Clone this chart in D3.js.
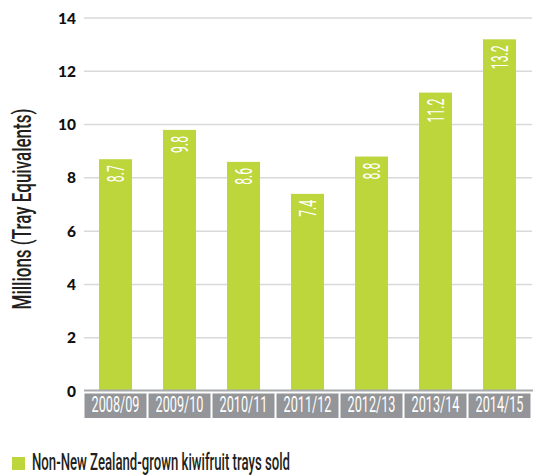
<!DOCTYPE html>
<html><head><meta charset="utf-8">
<script src="https://cdn.jsdelivr.net/npm/d3@7"></script>
<style>body{margin:0;background:#fff}svg{display:block}</style>
</head><body>
<svg id="c" width="534" height="475"></svg>
<script>
const categories = ["2008/09","2009/10","2010/11","2011/12","2012/13","2013/14","2014/15"];
const values = [8.7, 9.8, 8.6, 7.4, 8.8, 11.2, 13.2];
const yTicks = [0, 2, 4, 6, 8, 10, 12, 14];
const seriesName = "Non-New Zealand-grown kiwifruit trays sold";
const yTitle = "Millions (Tray Equivalents)";

const green = "#bdd63c", gray = "#939598", dark = "#231f20";
const cond = "Roboto, 'Liberation Sans', sans-serif";

const svg = d3.select("#c");
const y = d3.scaleLinear().domain([0, 14]).range([391, 18]);
const x = d3.scaleBand().domain(categories).range([83.5, 531.5]).paddingInner(0.484).paddingOuter(0.242);
const step = x.step();

function squeeze(g, target) {
  const t = g.select("text").node();
  return target / t.getComputedTextLength();
}

// gridlines
svg.append("g").selectAll("line").data(yTicks.filter(d => d > 0)).join("line")
  .attr("x1", 84).attr("x2", 532)
  .attr("y1", d => y(d)).attr("y2", d => y(d))
  .attr("stroke", "#d9d9d9").attr("stroke-width", 1.5);

// y tick labels
svg.append("g").selectAll("text").data(yTicks).join("text")
  .attr("x", 76).attr("y", d => y(d)).attr("dy", "0.36em")
  .attr("text-anchor", "end")
  .attr("font-family", "Lato, 'Open Sans', sans-serif").attr("font-weight", 900)
  .attr("font-size", 15.5).attr("fill", "#111")
  .text(d => d);

// bars
svg.append("g").selectAll("rect").data(values).join("rect")
  .attr("x", (d, i) => x(categories[i]))
  .attr("width", x.bandwidth())
  .attr("y", d => y(d))
  .attr("height", d => y(0) - y(d))
  .attr("fill", green);

// axis line
svg.append("line").attr("x1", 84).attr("x2", 533).attr("y1", 390.5).attr("y2", 390.5)
  .attr("stroke", "#a7a9ac").attr("stroke-width", 2);

// value labels
const vl = svg.append("g").selectAll("g").data(values).join("g");
vl.append("text")
  .attr("text-anchor", "end").attr("dy", "0.36em")
  .attr("font-family", cond).attr("font-size", 23).attr("fill", "#fff")
  .text(d => d.toFixed(1));
const kv = squeeze(vl.filter((d, i) => i === 0), 17);
vl.attr("transform", (d, i) => `translate(${x(categories[i]) + x.bandwidth() / 2},${y(d) + 6}) rotate(-90) scale(${kv},1)`);

// category boxes
const cb = svg.append("g").selectAll("g").data(categories).join("g");
cb.append("rect")
  .attr("x", d => x(d) + x.bandwidth() / 2 - step / 2 + 1)
  .attr("width", step - 2)
  .attr("y", 393.5).attr("height", 24.5)
  .attr("fill", gray);
const cl = cb.append("g");
cl.append("text").attr("text-anchor", "middle")
  .attr("font-family", cond).attr("font-size", 21.5).attr("fill", "#fff")
  .text(d => d);
const kc = squeeze(cl.filter((d, i) => i === 0), 48);
cl.attr("transform", d => `translate(${x(d) + x.bandwidth() / 2},${411.5}) scale(${kc},1)`);

// y title
const yt = svg.append("g");
yt.append("text").attr("text-anchor", "middle")
  .attr("font-family", cond).attr("font-weight", 500).attr("font-size", 25).attr("fill", dark)
  .text(yTitle);
const kt = squeeze(yt, 201);
yt.attr("transform", `translate(31,209) rotate(-90) scale(${kt},1)`);

// legend
svg.append("rect").attr("x", 12).attr("y", 457).attr("width", 13).attr("height", 13).attr("fill", green);
const lg = svg.append("g");
lg.append("text").attr("font-family", cond).attr("font-weight", 500).attr("font-size", 24).attr("fill", dark).text(seriesName);
const kl = squeeze(lg, 258);
lg.attr("transform", `translate(32,470) scale(${kl},1)`);
</script>
</body></html>
